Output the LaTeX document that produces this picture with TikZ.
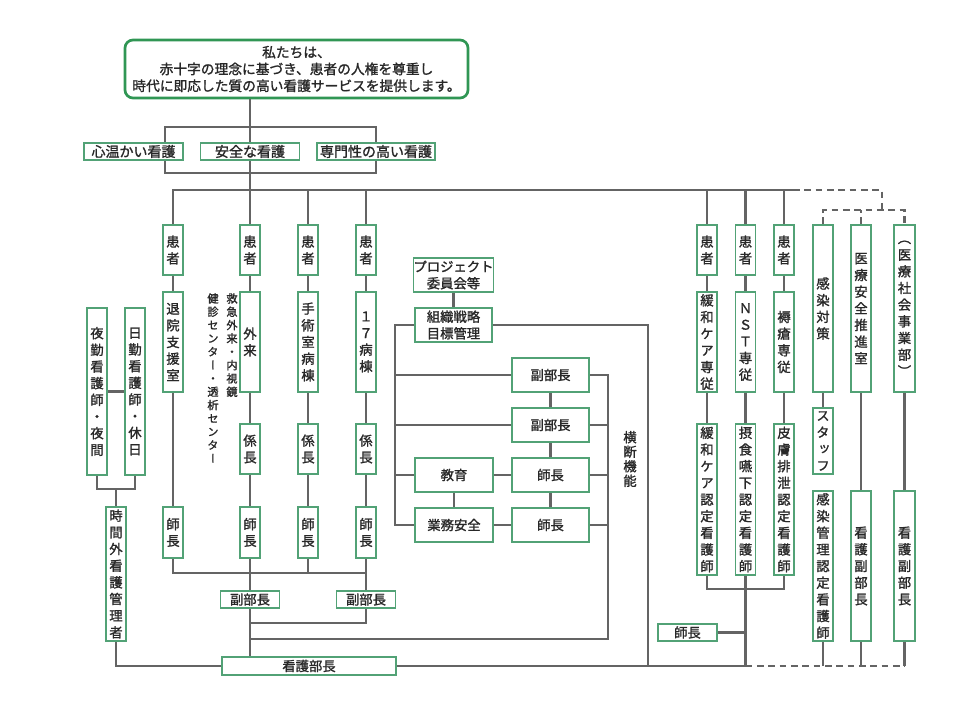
\documentclass[tikz,border=0pt]{standalone}
\usepackage{fontspec}
\usepackage{tikz}

\newfontfamily\jp[FakeBold=1.4]{Noto Sans CJK JP}
\newfontfamily\jpv[RawFeature=+vert,FakeBold=1.4]{Noto Sans CJK JP}

\definecolor{verdeCaja}{RGB}{82,162,118}
\definecolor{verdeMarco}{RGB}{48,150,84}
\definecolor{grisLinea}{RGB}{100,100,100}
\definecolor{textoOscuro}{RGB}{40,40,40}

% --- TEXTO VERTICAL: un caracter por linea ---
\def\tateend{}
\def\tatestep#1{\ifx#1\tateend\else\hbox to 1.05em{\hss#1\hss}\expandafter\tatestep\fi}
\newcommand\tate[2][12.5pt]{\vbox{\jpv\baselineskip=#1\lineskiplimit=-20pt\tatestep#2\tateend}}

\begin{document}
\begin{tikzpicture}[
    x=0.75pt, y=-0.75pt,
    % --- CAJAS ---
    hako/.style={draw=verdeCaja, line width=1.4pt, fill=white, inner sep=0pt, text=textoOscuro, font=\fontsize{10}{12.5}\jp},
    tam/.style 2 args={minimum width=#1*0.75pt, minimum height=#2*0.75pt},
    marco/.style={draw=verdeMarco, line width=2pt, rounded corners=6pt, fill=white, align=center, text=textoOscuro, font=\fontsize{10.3}{12.6}\jp},
    nota/.style={inner sep=0pt, text=textoOscuro, font=\fontsize{8.4}{10}\jp},
    % --- LINEAS ---
    sen/.style={draw=grisLinea, line width=2pt},
    tensen/.style={sen, dash pattern=on 5pt off 3.5pt}
]
    \useasboundingbox (0,0) rectangle (960,720);

    % --- LEMA Y TRES PILARES ---
    \node[marco, tam={343}{58}] (mision) at (296.5,69) {私たちは、\\赤十字の理念に基づき、患者の人権を尊重し\\時代に即応した質の高い看護サービスを提供します。};
    \node[hako, tam={99}{17}, font=\fontsize{10.5}{12}\jp] (kokoro) at (133.5,151.5) {心温かい看護};
    \node[hako, tam={99}{17}, font=\fontsize{10.5}{12}\jp] (anzen)  at (250,151.5)   {安全な看護};
    \node[hako, tam={118}{17}, font=\fontsize{10.5}{12}\jp] (senmon) at (376,151.5)  {専門性の高い看護};

    % --- COLUMNAS DE PACIENTES (izquierda) ---
    \node[hako, tam={20}{50}]  (kanA)    at (173,250)   {\tate{患者}};
    \node[hako, tam={20}{100}] (taiin)   at (173,342)   {\tate{退院支援室}};
    \node[hako, tam={20}{51}]  (shichoA) at (173,532.5) {\tate{師長}};

    \node[hako, tam={20}{50}]  (kanB)    at (250,250)   {\tate{患者}};
    \node[hako, tam={20}{100}] (gairai)  at (250,342)   {\tate{外来}};
    \node[hako, tam={20}{50}]  (kakaB)   at (250,449)   {\tate{係長}};
    \node[hako, tam={20}{51}]  (shichoB) at (250,532.5) {\tate{師長}};

    \node[hako, tam={20}{50}]  (kanC)    at (308,250)   {\tate{患者}};
    \node[hako, tam={20}{100}] (shujutsu) at (308,342)  {\tate{手術室病棟}};
    \node[hako, tam={20}{50}]  (kakaC)   at (308,449)   {\tate{係長}};
    \node[hako, tam={20}{51}]  (shichoC) at (308,532.5) {\tate{師長}};

    \node[hako, tam={20}{50}]  (kanD)    at (366,250)   {\tate{患者}};
    \node[hako, tam={20}{100}] (byoto)   at (366,342)   {\tate{１７病棟}};
    \node[hako, tam={20}{50}]  (kakaD)   at (366,449)   {\tate{係長}};
    \node[hako, tam={20}{51}]  (shichoD) at (366,532.5) {\tate{師長}};

    \node[nota, anchor=north] (gaiA) at (232,293) {\tate[10pt]{救急外来・内視鏡}};
    \node[nota, anchor=north] (gaiB) at (213,293) {\tate[10pt]{健診センター・透析センター}};

    \node[hako, tam={59}{17}]  (fukuB) at (250,599.5) {副部長};
    \node[hako, tam={59}{17}]  (fukuD) at (366,599.5) {副部長};
    \node[hako, tam={174}{18}] (kango) at (309,666)   {看護部長};

    % --- TURNOS ---
    \node[hako, tam={20}{167}] (yakin)    at (97,391.5)  {\tate{夜勤看護師・夜間}};
    \node[hako, tam={20}{167}] (nikkin)   at (135,391.5) {\tate{日勤看護師・休日}};
    \node[hako, tam={20}{134}] (jikangai) at (116,574)   {\tate{時間外看護管理者}};

    % --- FUNCION TRANSVERSAL ---
    \node[hako, tam={77}{34}, align=center, font=\fontsize{10}{12.5}\jp] (project) at (453.5,275) {プロジェクト\\委員会等};
    \node[hako, tam={77}{34}, align=center] (soshiki) at (453.5,325) {組織戦略\\目標管理};
    \node[hako, tam={77}{34}] (fuku1)   at (550.5,375) {副部長};
    \node[hako, tam={77}{34}] (fuku2)   at (550.5,425) {副部長};
    \node[hako, tam={78}{34}] (kyoiku)  at (454,475)   {教育};
    \node[hako, tam={78}{34}] (gyomu)   at (454,525)   {業務安全};
    \node[hako, tam={77}{34}] (shicho1) at (550.5,475) {師長};
    \node[hako, tam={77}{34}] (shicho2) at (550.5,525) {師長};
    \node[nota, font=\fontsize{10}{12}\jp] (yoko) at (630,459) {\tate[10.9pt]{横断機能}};

    % --- COLUMNAS DE ESPECIALISTAS (derecha) ---
    \node[hako, tam={20}{50}]  (kanE)     at (707,250)   {\tate{患者}};
    \node[hako, tam={20}{100}] (kanwa)    at (707,342)   {\tate{緩和ケア専従}};
    \node[hako, tam={20}{151}] (kanwaN)   at (707,499.5) {\tate{緩和ケア認定看護師}};

    \node[hako, tam={20}{50}]  (kanF)     at (745.5,250)   {\tate{患者}};
    \node[hako, tam={20}{100}] (nst)      at (745.5,342)   {\tate{ＮＳＴ専従}};
    \node[hako, tam={20}{151}] (sesshoku) at (745.5,499.5) {\tate{摂食嚥下認定看護師}};

    \node[hako, tam={20}{50}]  (kanG)     at (784,250)   {\tate{患者}};
    \node[hako, tam={20}{100}] (jokuso)   at (784,342)   {\tate{褥瘡専従}};
    \node[hako, tam={20}{151}] (hifu)     at (784,499.5) {\tate{皮膚排泄認定看護師}};

    \node[hako, tam={59}{17}] (shichoR) at (687.5,632.5) {師長};

    \node[hako, tam={20}{167}] (kansen)  at (823,308.5)  {\tate{感染対策}};
    \node[hako, tam={20}{66}]  (staff)   at (823,441)    {\tate{スタッフ}};
    \node[hako, tam={20}{150}] (kansenN) at (823,566)    {\tate{感染管理認定看護師}};
    \node[hako, tam={20}{167}] (iryo)    at (861,308.5)  {\tate{医療安全推進室}};
    \node[hako, tam={20}{150}] (fukuI)   at (861,566)    {\tate{看護副部長}};
    \node[hako, tam={21}{167}] (shakai)  at (904.5,308.5) {\tate{（医療社会事業部）}};
    \node[hako, tam={21}{150}] (fukuS)   at (904.5,566)  {\tate{看護副部長}};

    % --- PUNTOS DE UNION ---
    \coordinate (k1)  at (165,127);
    \coordinate (k2)  at (165,173);
    \coordinate (bus) at (793,190);
    \coordinate (d1)  at (882,210);
    \coordinate (b573) at (250,573);
    \coordinate (j623) at (250,623);
    \coordinate (yR)  at (608,639);
    \coordinate (yL)  at (250,639);
    \coordinate (izq) at (395,525);
    \coordinate (der) at (648,666);
    \coordinate (rj)  at (745.5,666);
    \coordinate (rb)  at (745.5,589);
    \coordinate (jy)  at (116,489);

    % --- LINEAS SUPERIORES ---
    \draw[sen] (mision.south -| anzen) -- (anzen.north);
    \draw[sen] (kokoro.north -| k1) -- (k1) -| (senmon.north);
    \draw[sen] (kokoro.south -| k2) -- (k2) -| (senmon.south);
    \draw[sen] (anzen.south) -- (kanB.north);
    \draw[sen] (kanA.north) |- (bus);
    \foreach \n in {kanC,kanD,kanE,kanF,kanG}
        \draw[sen] (\n.north) -- (\n.north |- bus);
    \draw[tensen] (bus) -| (d1);
    \draw[tensen] (kansen.north) |- (d1) -| (shakai.north);
    \draw[tensen] (iryo.north) -- (iryo.north |- d1);

    % --- COLUMNAS ---
    \draw[sen] (kanA) -- (taiin) -- (shichoA);
    \draw[sen] (kanB) -- (gairai) -- (kakaB) -- (shichoB);
    \draw[sen] (kanC) -- (shujutsu) -- (kakaC) -- (shichoC);
    \draw[sen] (kanD) -- (byoto) -- (kakaD) -- (shichoD);
    \draw[sen] (shichoA.south) |- (b573) -| (shichoD.south);
    \draw[sen] (shichoC.south) -- (shichoC.south |- b573);
    \draw[sen] (shichoB) -- (fukuB);
    \draw[sen] (shichoD) -- (fukuD);
    \draw[sen] (fukuB.south) -- (fukuB.south |- kango.north);
    \draw[sen] (fukuD.south) |- (j623);

    % --- TURNOS ---
    \draw[sen] (yakin) -- (nikkin);
    \draw[sen] (yakin.south) |- (jy) -| (nikkin.south);
    \draw[sen] (jy) -- (jikangai.north);
    \draw[sen] (jikangai.south) |- (kango.west);

    % --- FUNCION TRANSVERSAL ---
    \draw[sen] (project) -- (soshiki);
    \draw[sen] (fuku1) -- (fuku2) -- (shicho1) -- (shicho2);
    \draw[sen] (kyoiku) -- (gyomu);
    \draw[sen] (kyoiku) -- (shicho1);
    \draw[sen] (gyomu) -- (shicho2);
    \draw[sen] (soshiki.west) -| (izq) -- (gyomu.west);
    \foreach \n in {fuku1,fuku2,kyoiku}
        \draw[sen] (\n.west) -- (\n.west -| izq);
    \draw[sen] (fuku1.east) -| (yR) -- (yL);
    \foreach \n in {fuku2,shicho1,shicho2}
        \draw[sen] (\n.east) -- (\n.east -| yR);
    \draw[sen] (soshiki.east) -| (der);

    % --- DERECHA ---
    \draw[sen] (kanE) -- (kanwa) -- (kanwaN);
    \draw[sen] (kanF) -- (nst) -- (sesshoku);
    \draw[sen] (kanG) -- (jokuso) -- (hifu);
    \draw[sen] (kansen) -- (staff);
    \draw[sen] (iryo) -- (fukuI);
    \draw[sen] (shakai) -- (fukuS);
    \draw[sen] (kanwaN.south) |- (rb) -| (hifu.south);
    \draw[sen] (sesshoku.south) -- (rj);
    \draw[sen] (shichoR.east) -- (shichoR.east -| rj);
    \draw[sen] (kango.east) -- (rj);
    \draw[tensen] (rj) -- (rj -| shakai);
    \foreach \n in {kansenN,fukuI,fukuS}
        \draw[sen] (\n.south) -- (\n.south |- rj);

\end{tikzpicture}
\end{document}
